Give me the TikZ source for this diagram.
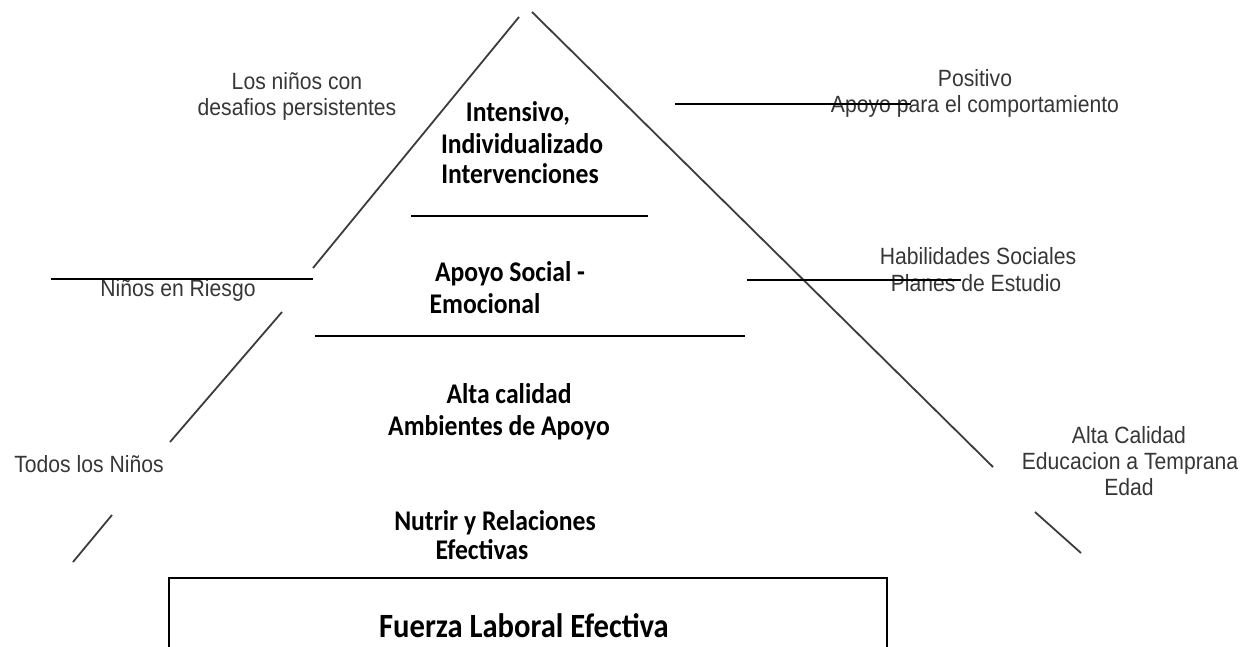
\documentclass[tikz,border=0pt]{standalone}
\usepackage{fontspec}
\newfontfamily\grayfont[FakeStretch=0.9]{Liberation Sans}
\newfontfamily\calib[FakeStretch=0.9]{Carlito}
\definecolor{lbl}{RGB}{55,55,55}
\definecolor{sidecol}{RGB}{60,60,60}
\begin{document}
\begin{tikzpicture}[x=1pt,y=-1pt,
  tier/.style={font=\calib\bfseries\fontsize{28.5}{32}\selectfont, anchor=base, inner sep=0pt},
  bigtier/.style={font=\calib\bfseries\fontsize{34}{38}\selectfont, anchor=base, inner sep=0pt},
  lab/.style={font=\grayfont\fontsize{23.5}{27}\selectfont, text=lbl, anchor=base, inner sep=0pt},
  pyrside/.style={draw=sidecol, line width=1.8pt},
  rulebar/.style={draw=black, line width=1.8pt},
  boxline/.style={draw=black, line width=1.8pt}]
\useasboundingbox (0,0) rectangle (1259,647);
\clip (0,0) rectangle (1259,647);
\fill[white] (0,0) rectangle (1259,647);

% side labels
\node[lab] (l1a) at (297,90) {Los niños con};
\node[lab] (l1b) at (297,116) {desafios persistentes};
\node[lab] (l2) at (178,296) {Niños en Riesgo};
\node[lab] (l3) at (89,472) {Todos los Niños};
\node[lab] (r1a) at (975,87) {Positivo};
\node[lab] (r1b) at (975,113) {Apoyo para el comportamiento};
\node[lab] (r2a) at (978,265) {Habilidades Sociales};
\node[lab] (r2b) at (976,291) {Planes de Estudio};
\node[lab] (r3a) at (1129,443) {Alta Calidad};
\node[lab] (r3b) at (1130,469) {Educacion a Temprana};
\node[lab] (r3c) at (1129,495) {Edad};

% tier texts
\node[tier] (t1a) at (518,122) {Intensivo,};
\node[tier] (t1b) at (522,154) {Individualizado};
\node[tier] (t1c) at (520,184) {Intervenciones};
\node[tier] (t2a) at (510,282) {Apoyo Social -};
\node[tier] (t2b) at (485,313) {Emocional};
\node[tier] (t3a) at (509,403) {Alta calidad};
\node[tier] (t3b) at (499,435) {Ambientes de Apoyo};
\node[tier] (t4a) at (495,530) {Nutrir y Relaciones};
\node[tier] (t4b) at (482,559) {Efectivas};
\node[bigtier] (base) at (524,637) {Fuerza Laboral Efectiva};

% pyramid sides
\coordinate (la1) at (519,17);  \coordinate (lb1) at (313,268);
\coordinate (la2) at (282,312); \coordinate (lb2) at (170,442);
\coordinate (la3) at (112,515); \coordinate (lb3) at (73,562);
\coordinate (ra1) at (532,12);  \coordinate (rb1) at (993,467);
\coordinate (ra2) at (1035,512);\coordinate (rb2) at (1081,553);
\draw[pyrside] (la1) -- (lb1);
\draw[pyrside] (la2) -- (lb2);
\draw[pyrside] (la3) -- (lb3);
\draw[pyrside] (ra1) -- (rb1);
\draw[pyrside] (ra2) -- (rb2);

% horizontal rules
\coordinate (h1a) at (675,104); \coordinate (h1b) at (911,104);
\coordinate (h2a) at (411,216); \coordinate (h2b) at (648,216);
\coordinate (h3a) at (51,279);  \coordinate (h3b) at (313,279);
\coordinate (h4a) at (747,280); \coordinate (h4b) at (961,280);
\coordinate (h5a) at (315,336); \coordinate (h5b) at (745,336);
\draw[rulebar] (h1a) -- (h1b);
\draw[rulebar] (h2a) -- (h2b);
\draw[rulebar] (h3a) -- (h3b);
\draw[rulebar] (h4a) -- (h4b);
\draw[rulebar] (h5a) -- (h5b);

% base box (bottom cut off)
\coordinate (bxbl) at (169,660); \coordinate (bxtl) at (169,578);
\coordinate (bxtr) at (887,578); \coordinate (bxbr) at (887,660);
\draw[boxline] (bxbl) -- (bxtl) -- (bxtr) -- (bxbr);
\end{tikzpicture}
\end{document}
